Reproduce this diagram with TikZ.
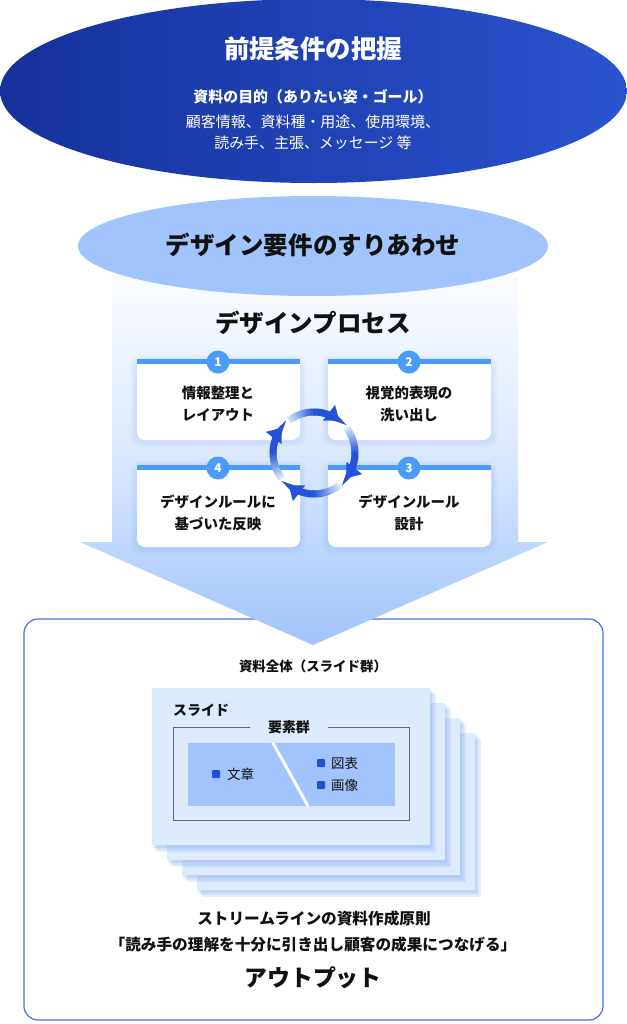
\documentclass[tikz,border=0pt]{standalone}
\usepackage{fontspec}
\setmainfont{Noto Sans CJK JP}
\usetikzlibrary{shapes.geometric,arrows.meta,calc}
\definecolor{navyL}{HTML}{15319A}
\definecolor{navyR}{HTML}{2A54CF}
\definecolor{lblue}{HTML}{A0C4FB}
\definecolor{cardblue}{HTML}{4A9CF8}
\definecolor{arrowblue}{HTML}{2452D8}
\definecolor{slidefill}{HTML}{DDEBFD}
\definecolor{boxborder}{HTML}{4A72E6}
\definecolor{bulletblue}{HTML}{1E50D8}
\definecolor{glow}{HTML}{7FA6F2}
\definecolor{ink}{HTML}{111111}
\definecolor{cycbg}{HTML}{D3E4FD}
\newcommand{\mycard}[4]{%
  \foreach \g in {6,4,2}{\fill[glow,opacity=0.07,rounded corners=10] (#1-\g,#2-\g+2) rectangle (#3+\g,#4+\g+1);}
  \fill[white,rounded corners=8] (#1,#2) rectangle (#3,#4);
  \fill[white] (#1,#2) rectangle (#3,#2+20);
  \fill[cardblue] (#1,#2) rectangle (#3,#2+5);
}
\newcommand{\myslide}[4]{%
  \foreach \g in {7,5,3}{\fill[glow,opacity=0.18] (#1+\g-2,#2+\g-1) rectangle (#3+\g-1,#4+\g);}
  \fill[slidefill] (#1,#2) rectangle (#3,#4);
}
\tikzset{
  wtitle/.style={font=\bfseries\fontsize{25.5}{29}\selectfont, text=white, inner sep=0},
  wsub/.style={font=\bfseries\fontsize{15}{18}\selectfont, text=white, inner sep=0},
  wbody/.style={font=\fontsize{15}{21}\selectfont, text=white, inner sep=0, align=center},
  btitle/.style={font=\bfseries\fontsize{24.6}{28}\selectfont, text=ink, inner sep=0},
  cardtxt/.style={font=\bfseries\fontsize{14.5}{22}\selectfont, text=ink, inner sep=0, align=center},
  numcirc/.style={circle, fill=cardblue, minimum size=23bp, inner sep=0, text=white, font=\bfseries\fontsize{12}{14}\selectfont},
  smallbold/.style={font=\bfseries\fontsize{13.5}{16}\selectfont, text=ink, inner sep=0},
  item/.style={font=\fontsize{13.5}{16}\selectfont, text=ink, inner sep=0, anchor=west},
  outtxt/.style={font=\bfseries\fontsize{15.7}{18}\selectfont, text=ink, inner sep=0},
  cycarc/.style={line width=7bp},
}
\begin{document}
\begin{tikzpicture}[x=1bp,y=-1bp]
\useasboundingbox (0,0) rectangle (627,1024);
% top ellipse
\node[ellipse, minimum width=627bp, minimum height=184bp, inner sep=0, left color=navyL, right color=navyR] (prem) at (313.5,91) {};
\node[wtitle] (premTitle) at (313,49) {前提条件の把握};
\node[wsub] (premGoal) at (313,97) {資料の目的（ありたい姿・ゴール）};
\node[wbody] (premList) at (313,132) {顧客情報、資料種・用途、使用環境、\\読み手、主張、メッセージ 等};
% output box
\draw[boxborder, line width=1.2bp, fill=white, rounded corners=14] (24,619) rectangle (603,1020);
\coordinate (boxTop) at (313,619);
% big arrow
\path[top color=white, bottom color=lblue, middle color=lblue!35!white] (112,246) -- (518,246) -- (518,542) -- (548,542) -- (313,645) -- (80,542) -- (112,542) -- cycle;
% second ellipse
\node[ellipse, minimum width=470bp, minimum height=100bp, inner sep=0, fill=lblue] (req) at (313,246) {};
\node[btitle] (reqTxt) at (313,245) {デザイン要件のすりあわせ};
\node[btitle] (proc) at (313,323) {デザインプロセス};
% cards
\mycard{137}{359}{300}{440}
\mycard{328}{359}{491}{440}
\mycard{328}{465}{491}{547}
\mycard{137}{465}{300}{547}
\node[numcirc] (n1) at (218,362) {1};
\node[numcirc] (n2) at (409,362) {2};
\node[numcirc] (n3) at (409,468) {3};
\node[numcirc] (n4) at (218,468) {4};
\node[cardtxt] (c1) at (218,404) {情報整理と\\レイアウト};
\node[cardtxt] (c2) at (409,404) {視覚的表現の\\洗い出し};
\node[cardtxt] (c3) at (409,513) {デザインルール\\設計};
\node[cardtxt] (c4) at (218,513) {デザインルールに\\基づいた反映};
% cycle arrows
\coordinate (cyc) at (314,453);
\foreach \s/\e in {-128/-62, -38/28, 52/118, 142/208}{
  \foreach \i in {0,...,19}{
    \pgfmathsetmacro\aa{\s+\i*(\e-\s)/20}
    \pgfmathsetmacro\bb{\s+(\i+1.4)*(\e-\s)/20}
    \pgfmathtruncatemacro\pc{min(100,\i*9)}
    \draw[cycarc, color=arrowblue!\pc!cycbg] ($(cyc)+(\aa:41)$) arc[start angle=\aa, end angle=\bb, radius=41];
  }
  \draw[cycarc, color=arrowblue, -{Triangle[length=13bp,width=19bp]}] ($(cyc)+(\e-3:41)$) arc[start angle=\e-3, end angle=\e+10, radius=41];
}
% output contents
\node[smallbold] (whole) at (313,666) {資料全体（スライド群）};
\myslide{197}{733}{475}{890}
\myslide{182}{718}{460}{875}
\myslide{167}{703}{445}{860}
\myslide{152}{688}{430}{845}
\node[smallbold, anchor=west, font=\bfseries\fontsize{14}{16}\selectfont] (slideLbl) at (173,710) {スライド};
\draw[gray!80!black, line width=0.8bp] (250,727) -- (173,727) -- (173,820) -- (409,820) -- (409,727) -- (328,727);
\node[smallbold, font=\bfseries\fontsize{14}{16}\selectfont] (elems) at (289,727) {要素群};
\fill[lblue] (188,743) rectangle (395,806);
\draw[white, line width=3bp] (273,743) -- (308,806);
\fill[bulletblue, rounded corners=1] (212,770) rectangle (220,778);
\node[item] (bun) at (227,774) {文章};
\fill[bulletblue, rounded corners=1] (317,759) rectangle (325,767);
\node[item] (zuhyo) at (331,763) {図表};
\fill[bulletblue, rounded corners=1] (317,781) rectangle (325,789);
\node[item] (gazo) at (331,785) {画像};
% bottom text
\node[outtxt] (prin) at (314,919) {ストリームラインの資料作成原則};
\node[outtxt] (prin2) at (313,945) {「読み手の理解を十分に引き出し顧客の成果につなげる」};
\node[btitle, font=\bfseries\fontsize{23}{27}\selectfont] (out) at (313,978) {アウトプット};
\end{tikzpicture}
\end{document}
